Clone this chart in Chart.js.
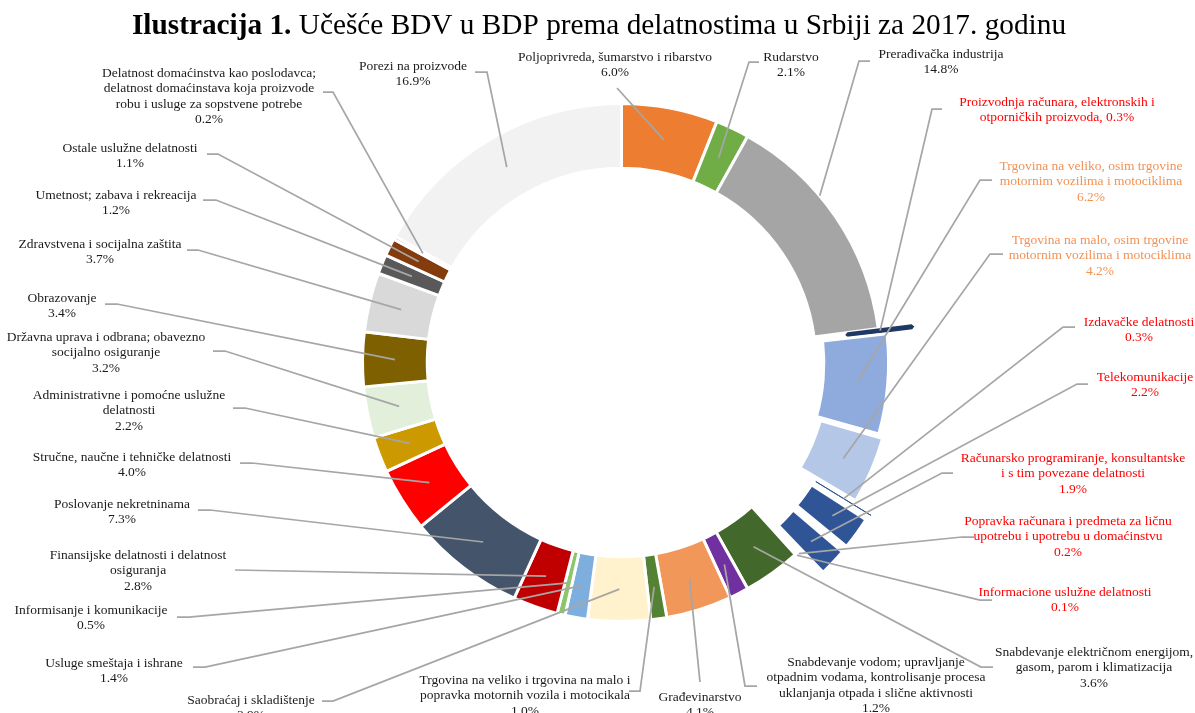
<!DOCTYPE html>
<html>
<head>
<meta charset="utf-8">
<title>Učešće BDV u BDP prema delatnostima u Srbiji za 2017. godinu</title>
<script src="https://cdn.jsdelivr.net/npm/chart.js@4.4.1/dist/chart.umd.min.js"></script>
<style>
    html, body { margin: 0; padding: 0; background: #fff; }
    #wrap { width: 1195px; height: 713px; position: relative; }
</style>
</head>
<body>
<div id="wrap"><canvas id="ucesceBdv" width="1195" height="713"></canvas></div>
<script>
// Delatnosti, u smeru kazaljke na satu od vrha
const categories = [
    ['Poljoprivreda, šumarstvo i ribarstvo'],
    ['Rudarstvo'],
    ['Prerađivačka industrija'],
    ['Proizvodnja računara, elektronskih i', 'otporničkih proizvoda'],
    ['Trgovina na veliko, osim trgovine', 'motornim vozilima i motociklima'],
    ['Trgovina na malo, osim trgovine', 'motornim vozilima i motociklima'],
    ['Izdavačke delatnosti'],
    ['Telekomunikacije'],
    ['Računarsko programiranje, konsultantske', 'i s tim povezane delatnosti'],
    ['Popravka računara i predmeta za ličnu', 'upotrebu i upotrebu u domaćinstvu'],
    ['Informacione uslužne delatnosti'],
    ['Snabdevanje električnom energijom,', 'gasom, parom i klimatizacija'],
    ['Snabdevanje vodom; upravljanje', 'otpadnim vodama, kontrolisanje procesa', 'uklanjanja otpada i slične aktivnosti'],
    ['Građevinarstvo'],
    ['Trgovina na veliko i trgovina na malo i', 'popravka motornih vozila i motocikala'],
    ['Saobraćaj i skladištenje'],
    ['Usluge smeštaja i ishrane'],
    ['Informisanje i komunikacije'],
    ['Finansijske delatnosti i delatnost', 'osiguranja'],
    ['Poslovanje nekretninama'],
    ['Stručne, naučne i tehničke delatnosti'],
    ['Administrativne i pomoćne uslužne', 'delatnosti'],
    ['Državna uprava i odbrana; obavezno', 'socijalno osiguranje'],
    ['Obrazovanje'],
    ['Zdravstvena i socijalna zaštita'],
    ['Umetnost; zabava i rekreacija'],
    ['Ostale uslužne delatnosti'],
    ['Delatnost domaćinstva kao poslodavca;', 'delatnost domaćinstava koja proizvode', 'robu i usluge za sopstvene potrebe'],
    ['Porezi na proizvode']
];

// učešće u BDP, %
const shares = [6.0, 2.1, 14.8, 0.3, 6.2, 4.2, 0.3, 2.2, 1.9, 0.2, 0.1, 3.6, 1.2, 4.1, 1.0,
                3.9, 1.4, 0.5, 2.8, 7.3, 4.0, 2.2, 3.2, 3.4, 3.7, 1.2, 1.1, 0.2, 16.9];

const sliceColors = ['#ED7D31', '#70AD47', '#A5A5A5', '#1F3864', '#8FAADC', '#B4C7E7', '#2F5597',
    '#2F5597', '#2F5597', '#2F5597', '#2F5597', '#43682B', '#7030A0', '#F1975A', '#548235',
    '#FFF2CC', '#7DAEDE', '#8CC66A', '#C00000', '#44546A', '#FF0000', '#CC9900', '#E2EFDA',
    '#7F6000', '#D9D9D9', '#595959', '#843C0C', '#9E480E', '#F2F2F2'];

// izdvojeni delovi (IKT u crvenom, trgovina u narandžastom)
const explode = [0, 0, 0, 68, 20, 30, 68, 68, 68, 68, 68, 0, 0, 0, 0,
                 0, 0, 0, 0, 0, 0, 0, 0, 0, 0, 0, 0, 0, 0];

// tanki isečci dobijaju ivicu u svojoj boji da bi ostali vidljivi
const edgeColors = sliceColors.map((c, i) => (i === 3 || i === 6) ? c : '#FFFFFF');
const edgeWidths = sliceColors.map((c, i) => i === 3 ? 5 : (i === 6 ? 1 : 3));

const toneColors = { black: '#1a1a1a', red: '#FF0000', orange: '#F29255' };

// pozicije natpisa: centar teksta, prvi red, i početak linije do isečka
const layout = [
    { x: 615, y: 57, tone: 'black', path: [[617, 88]] },
    { x: 791, y: 57, tone: 'black', path: [[759, 62], [749, 62]] },
    { x: 941, y: 54, tone: 'black', path: [[870, 61], [859, 61]], rf: 1.0, af: 0.39 },
    { x: 1057, y: 102, tone: 'red', inline: true, path: [[942, 109], [932, 109]] },
    { x: 1091, y: 166, tone: 'orange', path: [[992, 180], [980, 180]] },
    { x: 1100, y: 240, tone: 'orange', path: [[1003, 254], [990, 254]] },
    { x: 1139, y: 322, tone: 'red', path: [[1075, 327], [1063, 327]] },
    { x: 1145, y: 377, tone: 'red', path: [[1088, 384], [1077, 384]] },
    { x: 1073, y: 458, tone: 'red', path: [[953, 473], [942, 473]] },
    { x: 1068, y: 521, tone: 'red', path: [[974, 537], [962, 537]] },
    { x: 1065, y: 592, tone: 'red', path: [[992, 600], [980, 600]] },
    { x: 1094, y: 652, tone: 'black', path: [[993, 667], [981, 667]] },
    { x: 876, y: 662, tone: 'black', path: [[757, 686], [745, 686]] },
    { x: 700, y: 697, tone: 'black', path: [[700, 682]] },
    { x: 525, y: 680, tone: 'black', path: [[629, 691], [640, 691]] },
    { x: 251, y: 700, tone: 'black', path: [[322, 701], [333, 701]] },
    { x: 114, y: 663, tone: 'black', path: [[193, 667], [205, 667]] },
    { x: 91, y: 610, tone: 'black', path: [[177, 617], [189, 617]] },
    { x: 138, y: 555, tone: 'black', path: [[235, 570]] },
    { x: 122, y: 504, tone: 'black', path: [[198, 510], [210, 510]] },
    { x: 132, y: 457, tone: 'black', path: [[240, 463], [252, 463]] },
    { x: 129, y: 395, tone: 'black', path: [[233, 408], [245, 408]] },
    { x: 106, y: 337, tone: 'black', path: [[213, 351], [225, 351]] },
    { x: 62, y: 298, tone: 'black', path: [[105, 304], [117, 304]] },
    { x: 100, y: 244, tone: 'black', path: [[187, 250], [198, 250]] },
    { x: 116, y: 195, tone: 'black', path: [[203, 200], [216, 200]] },
    { x: 130, y: 148, tone: 'black', path: [[207, 154], [218, 154]] },
    { x: 209, y: 73, tone: 'black', path: [[323, 92], [333, 92]] },
    { x: 413, y: 66, tone: 'black', path: [[475, 72], [487, 72]] }
];

const LABEL_FONT = '13.5px "Liberation Serif", "Times New Roman", serif';
const LINE_H = 15.5;

// natpisi sa linijama vodiljama
const leaderLabels = {
    id: 'leaderLabels',
    afterDatasetsDraw(chart) {
        const ctx = chart.ctx;
        const arcs = chart.getDatasetMeta(0).data;
        ctx.save();
        ctx.strokeStyle = '#A6A6A6';
        ctx.lineWidth = 1.75;
        arcs.forEach((arc, i) => {
            const l = layout[i];
            const p = arc.getProps(['x', 'y', 'startAngle', 'endAngle', 'innerRadius', 'outerRadius'], true);
            const af = l.af !== undefined ? l.af : 0.5;
            const ang = p.startAngle + (p.endAngle - p.startAngle) * af;
            const rf = l.rf !== undefined ? l.rf : 0.5;
            const r = p.innerRadius + (p.outerRadius - p.innerRadius) * rf + (arc.options.offset || 0) / 2;
            ctx.beginPath();
            ctx.moveTo(l.path[0][0], l.path[0][1]);
            for (let k = 1; k < l.path.length; k++) ctx.lineTo(l.path[k][0], l.path[k][1]);
            ctx.lineTo(p.x + Math.cos(ang) * r, p.y + Math.sin(ang) * r);
            ctx.stroke();
        });

        ctx.font = LABEL_FONT;
        ctx.textAlign = 'center';
        ctx.textBaseline = 'middle';
        arcs.forEach((arc, i) => {
            const l = layout[i];
            const lines = categories[i].slice();
            const pct = shares[i].toFixed(1) + '%';
            if (l.inline) lines[lines.length - 1] += ', ' + pct;
            else lines.push(pct);
            ctx.fillStyle = toneColors[l.tone];
            lines.forEach((t, k) => ctx.fillText(t, l.x, l.y + k * LINE_H));
        });
        ctx.restore();
    }
};

// naslov: "Ilustracija 1." podebljano, ostatak običan
const mixedTitle = {
    id: 'mixedTitle',
    afterDraw(chart) {
        const ctx = chart.ctx;
        const bold = 'Ilustracija 1.';
        const rest = ' Učešće BDV u BDP prema delatnostima u Srbiji za 2017. godinu';
        const size = 29.3;
        const family = 'px "Liberation Serif", "Times New Roman", serif';
        ctx.save();
        ctx.textBaseline = 'alphabetic';
        ctx.textAlign = 'left';
        ctx.font = 'bold ' + size + family;
        const wb = ctx.measureText(bold).width;
        ctx.font = size + family;
        const wr = ctx.measureText(rest).width;
        const x = 599 - (wb + wr) / 2;
        const y = 34;
        ctx.fillStyle = '#000';
        ctx.font = 'bold ' + size + family;
        ctx.fillText(bold, x, y);
        ctx.font = size + family;
        ctx.fillText(rest, x + wb, y);
        ctx.restore();
    }
};

const ctxBdv = document.getElementById('ucesceBdv').getContext('2d');

const ucesceBdv = new Chart(ctxBdv, {
    type: 'doughnut',
    data: {
        labels: categories,
        datasets: [{
            data: shares,
            backgroundColor: sliceColors,
            borderColor: edgeColors,
            borderWidth: edgeWidths,
            offset: explode,
            hoverOffset: 0
        }]
    },
    options: {
        responsive: false,
        animation: false,
        events: [],
        radius: 259,
        cutout: '75%',
        layout: {
            padding: { left: 48, right: 0, top: 12, bottom: 0 }
        },
        plugins: {
            legend: { display: false },
            title: { display: false },
            tooltip: { enabled: false }
        }
    },
    plugins: [leaderLabels, mixedTitle]
});
</script>
</body>
</html>
